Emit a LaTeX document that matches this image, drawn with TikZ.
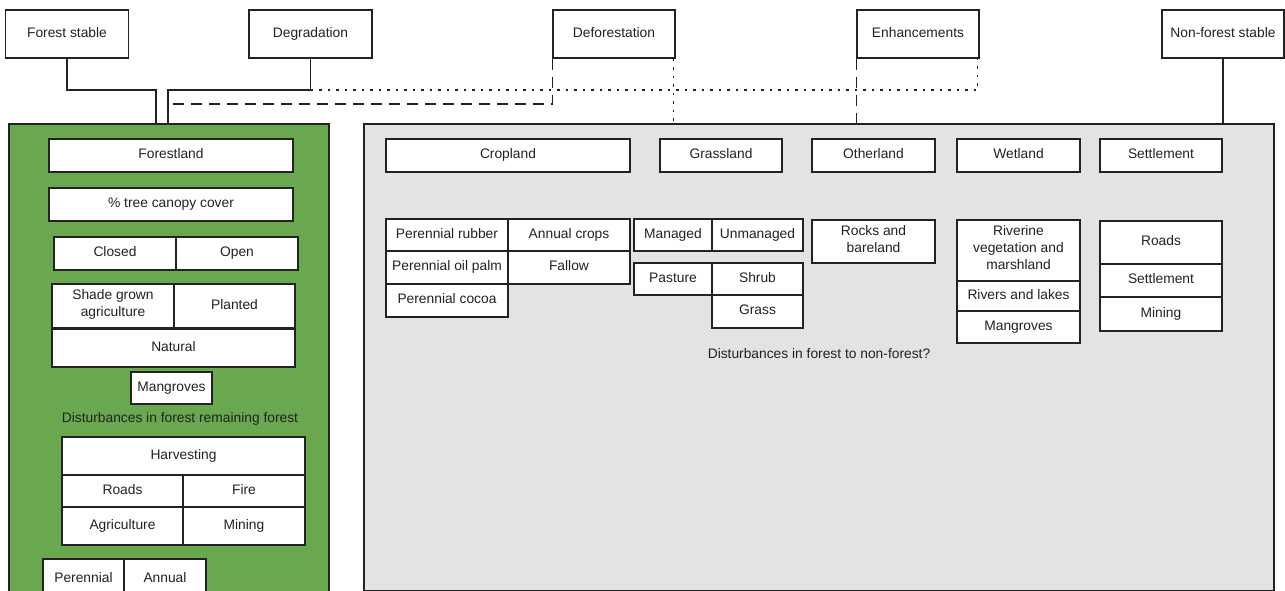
\documentclass[tikz,border=0pt]{standalone}
\usepackage{fontspec}
\setmainfont{Liberation Sans}
\definecolor{forestgreen}{HTML}{6AA84F}
\definecolor{panelgrey}{HTML}{E3E3E3}
\definecolor{inkgrey}{HTML}{222222}

\begin{document}
\begin{tikzpicture}[x=1pt, y=-1pt, line width=1.3pt, draw=inkgrey]
				\tikzstyle{every node}=[inner sep=1pt, align=center, text=inkgrey, font=\fontsize{13.8}{17}\selectfont, execute at begin node=\strut]
				\tikzset{cell/.style 2 args={draw=inkgrey, fill=white, minimum width=#1pt, minimum height=#2pt},
					panel/.style={draw=inkgrey, line width=1.8pt, anchor=north west, inner sep=0pt},
					dotline/.style={dash pattern=on 2.5pt off 6pt},
					dashline/.style={dash pattern=on 11pt off 7pt}}
				\useasboundingbox (0,0) rectangle (1285,591);
				\clip (0,0) rectangle (1285,591);
				\node[cell={123}{48}] (fstable) at (67,34) {Forest stable};
				\node[cell={123}{48}] (degrad) at (310.5,34) {Degradation};
				\node[cell={122}{48}] (defor) at (614,34) {Deforestation};
				\node[cell={122}{48}] (enhance) at (918,34) {Enhancements};
				\node[cell={122}{48}] (nfstable) at (1223,34) {Non-forest stable};
				\node[panel, fill=forestgreen, minimum width=320pt, minimum height=490pt] (fpanel) at (8,123) {};
				\node[panel, fill=panelgrey, minimum width=910pt, minimum height=467pt] (nfpanel) at (363,123) {};
				\coordinate (fjoin) at (156,90);
				\coordinate (djoin) at (168,90);
				\coordinate (dashjoin) at (168,104);
				\coordinate (dright) at ([xshift=-2pt]defor.south east);
				\draw (fstable.south) |- (fjoin) -- (fjoin |- fpanel.north);
				\draw (degrad.south) |- (djoin) -- (djoin |- fpanel.north);
				\draw[dotline] (degrad.south |- djoin) -| ([xshift=-2pt]enhance.south east);
				\draw[dashline] (defor.south west) |- (dashjoin);
				\draw[dotline] (dright) -- (dright |- nfpanel.north);
				\draw[dashline] (enhance.south west) -- (enhance.south west |- nfpanel.north);
				\draw (nfstable.south) -- (nfstable.south |- nfpanel.north);
				% forest remaining forest
				\node[cell={244}{33}] (forestland) at (171,155.5) {Forestland};
				\node[cell={244}{33}] (canopy) at (171,204.5) {\% tree canopy cover};
				\node[cell={122}{33}] (closed) at (115,253.5) {Closed};
				\node[cell={122}{33}] (open) at (237,253.5) {Open};
				\node[cell={122}{44}] (shade) at (113,306) {Shade grown\\agriculture};
				\node[cell={121}{44}] (planted) at (234.5,306) {Planted};
				\node[cell={243}{38}] (natural) at (173.5,348) {Natural};
				\node[cell={81}{32}] (fmangroves) at (171.5,388) {Mangroves};
				\node (fdist) at (180,419) {Disturbances in forest remaining forest};
				\node[cell={243}{38}] (harvest) at (183.5,456) {Harvesting};
				\node[cell={121}{32}] (froads) at (122.5,491) {Roads};
				\node[cell={122}{32}] (fire) at (244,491) {Fire};
				\node[cell={121}{38}] (agri) at (122.5,526) {Agriculture};
				\node[cell={122}{38}] (fmining) at (244,526) {Mining};
				\node[cell={81}{41}] (perennial) at (83.5,579.5) {Perennial};
				\node[cell={82}{41}] (annual) at (165,579.5) {Annual};
				% forest to non-forest
				\node[cell={244}{33}] (cropland) at (508,155.5) {Cropland};
				\node[cell={122}{33}] (grassland) at (721,155.5) {Grassland};
				\node[cell={123}{33}] (otherland) at (873.5,155.5) {Otherland};
				\node[cell={123}{33}] (wetland) at (1018.5,155.5) {Wetland};
				\node[cell={122}{33}] (settle) at (1161,155.5) {Settlement};
				\node[cell={122}{32}] (rubber) at (447,235) {Perennial rubber};
				\node[cell={122}{32}] (crops) at (569,235) {Annual crops};
				\node[cell={122}{33}] (oilpalm) at (447,267.5) {Perennial oil palm};
				\node[cell={122}{33}] (fallow) at (569,267.5) {Fallow};
				\node[cell={122}{33}] (cocoa) at (447,300.5) {Perennial cocoa};
				\node[cell={78}{32}] (managed) at (673,235) {Managed};
				\node[cell={91}{32}] (unmanaged) at (757.5,235) {Unmanaged};
				\node[cell={78}{32}] (pasture) at (673,279) {Pasture};
				\node[cell={91}{32}] (shrub) at (757.5,279) {Shrub};
				\node[cell={91}{33}] (grass) at (757.5,311.5) {Grass};
				\node[cell={123}{43}] (rocks) at (873.5,241.5) {Rocks and\\bareland};
				\node[cell={123}{61}] (riverine) at (1018.5,250.5) {Riverine\\vegetation and\\marshland};
				\node[cell={123}{30}] (rivers) at (1018.5,296) {Rivers and lakes};
				\node[cell={123}{32}] (wmangroves) at (1018.5,327) {Mangroves};
				\node[cell={122}{43}] (sroads) at (1161,242.5) {Roads};
				\node[cell={122}{33}] (ssettle) at (1161,280.5) {Settlement};
				\node[cell={122}{34}] (smining) at (1161,314) {Mining};
				\node (nfdist) at (819,355) {Disturbances in forest to non-forest?};
		\end{tikzpicture}
\end{document}
